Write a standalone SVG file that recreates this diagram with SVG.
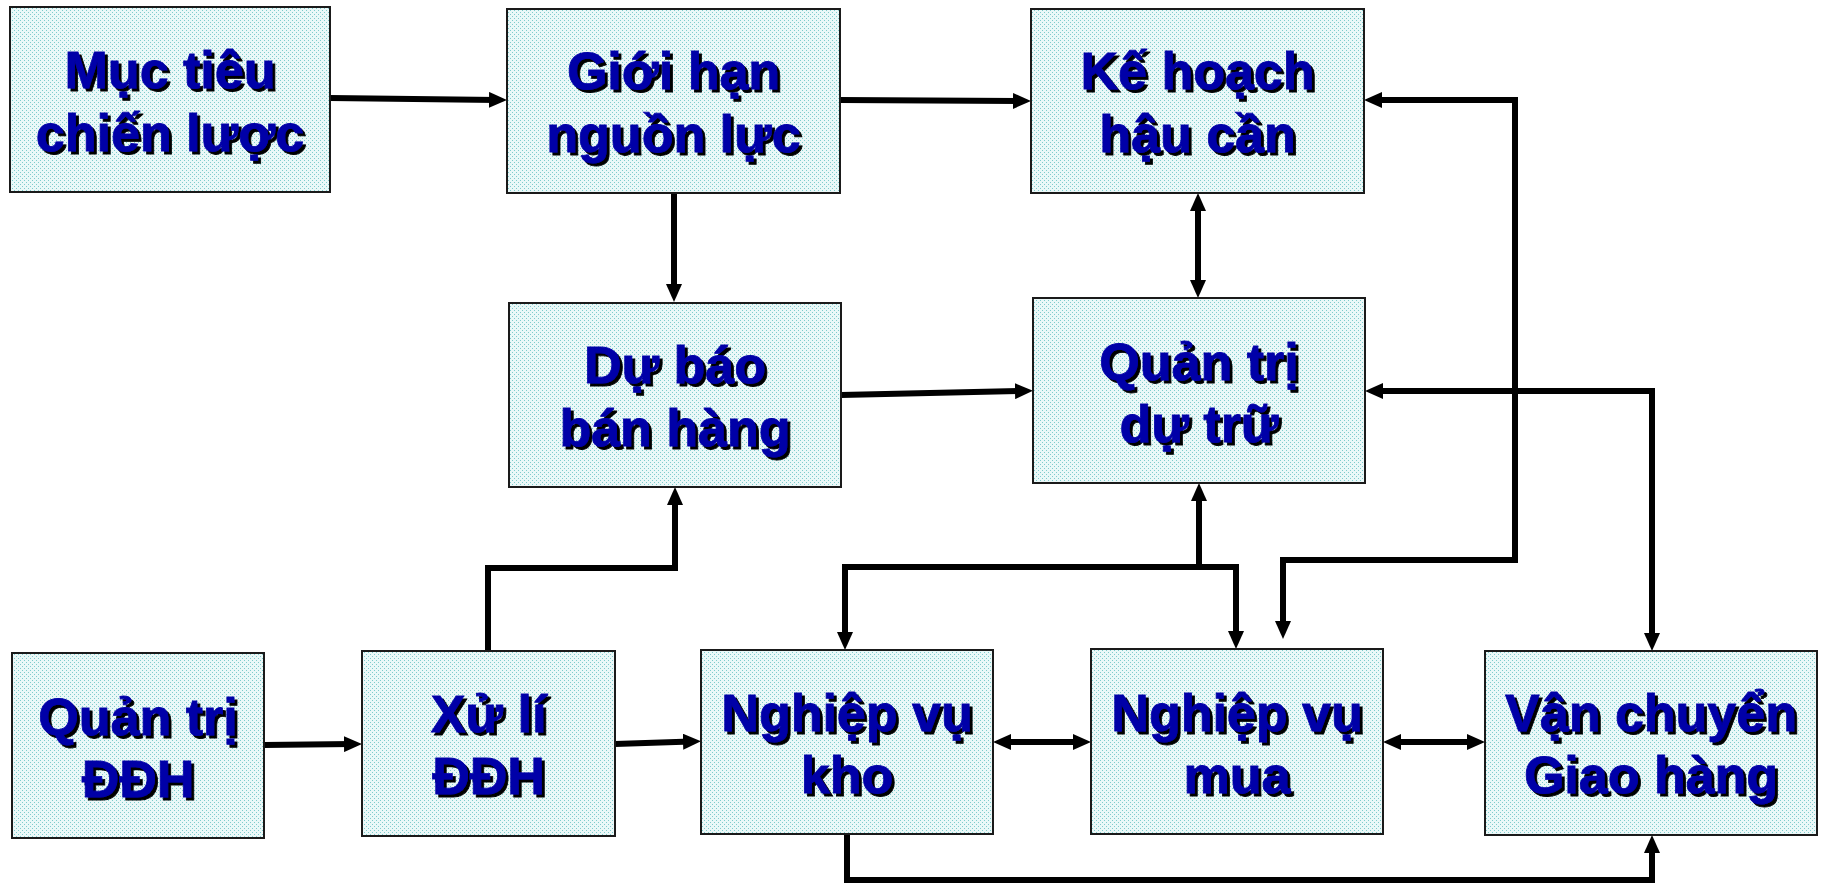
<svg xmlns="http://www.w3.org/2000/svg" width="1822" height="885" viewBox="0 0 1822 885">
<defs>
<pattern id="dots" width="4" height="4" patternUnits="userSpaceOnUse">
<rect width="4" height="4" fill="#eaf8f8"/>
<rect x="0" y="0" width="1" height="1" fill="#7fcccc"/>
<rect x="2" y="2" width="1" height="1" fill="#7fcccc"/>
</pattern>
<filter id="sh" x="-10%" y="-10%" width="120%" height="130%">
<feDropShadow dx="3" dy="3" stdDeviation="0" flood-color="#000" flood-opacity="1"/>
</filter>
<marker id="ah" viewBox="0 0 18 16" markerUnits="userSpaceOnUse" markerWidth="18" markerHeight="16" refX="8" refY="8" orient="auto-start-reverse">
<path d="M0,0 L18,8 L0,16 z" fill="#000"/>
</marker>
<style>
.box{fill:url(#dots);stroke:#1a1a1a;stroke-width:2}
.lbl{font-family:"Liberation Sans",Arial,sans-serif;font-weight:bold;font-size:52px;fill:#0000a8;stroke:#0000a8;stroke-width:0.8;text-anchor:middle;filter:url(#sh)}
.c{fill:none;stroke:#000;stroke-width:6;stroke-linejoin:miter}
.e{marker-end:url(#ah)}
.b{marker-start:url(#ah);marker-end:url(#ah)}
</style>
</defs>
<rect width="1822" height="885" fill="#fff"/>
<g id="connectors">
<path class="c e" d="M330,98 L497,100"/>
<path class="c e" d="M840,100 L1021,101"/>
<path class="c e" d="M674,193 L674,292"/>
<path class="c e" d="M841,395 L1023,391"/>
<path class="c b" d="M1198,203 L1198,288"/>
<path class="c b" d="M1374,100 L1515,100 L1515,560 L1283,560 L1283,629"/>
<path class="c b" d="M1375,391 L1652,391 L1652,641"/>
<path class="c b" d="M845,640 L845,567 L1236,567 L1236,639"/>
<path class="c e" d="M1199,567 L1199,493"/>
<path class="c e" d="M488,651 L488,568 L675,568 L675,497"/>
<path class="c e" d="M264,745 L352,744"/>
<path class="c e" d="M615,744 L691,741.5"/>
<path class="c b" d="M1003,742 L1081,742"/>
<path class="c b" d="M1393,742 L1475,742"/>
<path class="c e" d="M847,834 L847,880 L1652,880 L1652,845"/>
</g>
<g id="muc-tieu">
<rect class="box" x="10" y="7" width="320" height="185"/>
<text class="lbl" x="170"><tspan x="170" y="88">Mục tiêu</tspan><tspan x="170" y="151">chiến lược</tspan></text>
</g>
<g id="gioi-han">
<rect class="box" x="507" y="9" width="333" height="184"/>
<text class="lbl"><tspan x="673.5" y="89">Giới hạn</tspan><tspan x="673.5" y="152">nguồn lực</tspan></text>
</g>
<g id="du-bao">
<rect class="box" x="509" y="303" width="332" height="184"/>
<text class="lbl"><tspan x="675" y="383">Dự báo</tspan><tspan x="675" y="446">bán hàng</tspan></text>
</g>
<g id="ke-hoach">
<rect class="box" x="1031" y="9" width="333" height="184"/>
<text class="lbl"><tspan x="1197.5" y="89">Kế hoạch</tspan><tspan x="1197.5" y="152">hậu cần</tspan></text>
</g>
<g id="quan-tri-du-tru">
<rect class="box" x="1033" y="298" width="332" height="185"/>
<text class="lbl"><tspan x="1199" y="380">Quản trị</tspan><tspan x="1199" y="442">dự trữ</tspan></text>
</g>
<g id="quan-tri-ddh">
<rect class="box" x="12" y="653" width="252" height="185"/>
<text class="lbl"><tspan x="138" y="735">Quản trị</tspan><tspan x="138" y="797">ĐĐH</tspan></text>
</g>
<g id="xu-li-ddh">
<rect class="box" x="362" y="651" width="253" height="185"/>
<text class="lbl"><tspan x="488.5" y="732">Xử lí</tspan><tspan x="488.5" y="794">ĐĐH</tspan></text>
</g>
<g id="nghiep-vu-kho">
<rect class="box" x="701" y="650" width="292" height="184"/>
<text class="lbl"><tspan x="847" y="731">Nghiệp vụ</tspan><tspan x="847" y="793">kho</tspan></text>
</g>
<g id="nghiep-vu-mua">
<rect class="box" x="1091" y="649" width="292" height="185"/>
<text class="lbl"><tspan x="1237" y="731">Nghiệp vụ</tspan><tspan x="1237" y="793">mua</tspan></text>
</g>
<g id="van-chuyen">
<rect class="box" x="1485" y="651" width="332" height="184"/>
<text class="lbl"><tspan x="1651" y="731">Vận chuyển</tspan><tspan x="1651" y="793">Giao hàng</tspan></text>
</g>
</svg>
